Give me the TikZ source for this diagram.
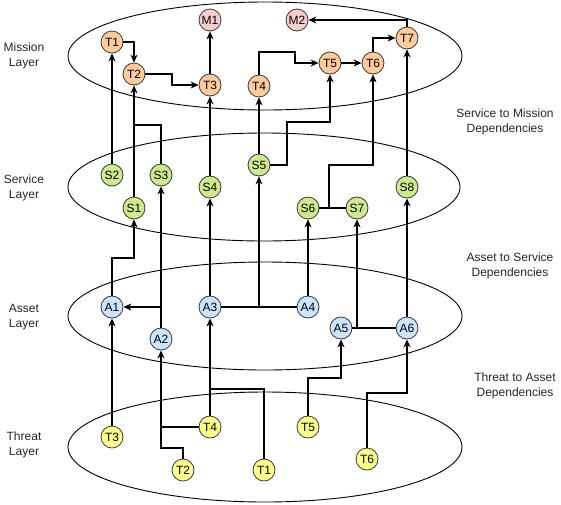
\documentclass[tikz,border=0pt]{standalone}
\usepackage{fontspec}
\setmainfont{Liberation Sans}
\usetikzlibrary{arrows.meta}
\definecolor{bordc}{HTML}{36393D}
\definecolor{orangef}{HTML}{FFCC99}
\definecolor{pinkf}{HTML}{F8CECC}
\definecolor{greenf}{HTML}{CDEB8B}
\definecolor{bluef}{HTML}{CCE5FF}
\definecolor{yellowf}{HTML}{FFFF88}
\tikzset{
  nd/.style={circle, draw=bordc, line width=0.8pt, minimum size=22pt, inner sep=0pt, font=\fontsize{12}{14}\selectfont},
  misn/.style={nd, fill=orangef},
  goal/.style={nd, fill=pinkf},
  serv/.style={nd, fill=greenf},
  asst/.style={nd, fill=bluef},
  thrt/.style={nd, fill=yellowf},
  layer/.style={draw=black, line width=0.9pt},
  conn/.style={draw=black, line width=1.1pt},
  arr/.style={conn, -{Stealth[length=8pt,width=7pt,inset=2.5pt]}},
  lbl/.style={align=center, font=\fontsize{12}{15}\selectfont, text=black!85}
}
\begin{document}
\begin{tikzpicture}[x=1pt,y=-1pt]
\useasboundingbox (0,0) rectangle (561,504);
% layers
\draw[layer] (265,56) ellipse [x radius=197, y radius=54];
\draw[layer] (264,187) ellipse [x radius=196, y radius=54];
\draw[layer] (265,316) ellipse [x radius=197, y radius=54];
\draw[layer] (265,447) ellipse [x radius=197, y radius=55];
% labels
\node[lbl] (lm) at (24,56) {Mission\\Layer};
\node[lbl] (ls) at (24,188) {Service\\Layer};
\node[lbl] (la) at (24,317) {Asset\\Layer};
\node[lbl] (lt) at (24,445) {Threat\\Layer};
\node[lbl] (dsm) at (505,122) {Service to Mission\\Dependencies};
\node[lbl] (das) at (510,266) {Asset to Service\\Dependencies};
\node[lbl] (dta) at (515,386) {Threat to Asset\\Dependencies};
% mission nodes
\node[misn] (mT1) at (112,42) {T1};
\node[misn] (mT2) at (134,74) {T2};
\node[misn] (mT3) at (210,85) {T3};
\node[misn] (mT4) at (259,86) {T4};
\node[misn] (mT5) at (330,63) {T5};
\node[misn] (mT6) at (373,63) {T6};
\node[misn] (mT7) at (407,38) {T7};
\node[goal] (M1) at (210,20) {M1};
\node[goal] (M2) at (297,20) {M2};
% service nodes
\node[serv] (S1) at (134,208) {S1};
\node[serv] (S2) at (112,175) {S2};
\node[serv] (S3) at (161,175) {S3};
\node[serv] (S4) at (210,187) {S4};
\node[serv] (S5) at (259,165) {S5};
\node[serv] (S6) at (308,208) {S6};
\node[serv] (S7) at (357,208) {S7};
\node[serv] (S8) at (407,187) {S8};
% asset nodes
\node[asst] (A1) at (112,307) {A1};
\node[asst] (A2) at (161,339) {A2};
\node[asst] (A3) at (210,307) {A3};
\node[asst] (A4) at (308,307) {A4};
\node[asst] (A5) at (341,328) {A5};
\node[asst] (A6) at (407,328) {A6};
% threat nodes
\node[thrt] (tT1) at (264,470) {T1};
\node[thrt] (tT2) at (183,470) {T2};
\node[thrt] (tT3) at (112,437) {T3};
\node[thrt] (tT4) at (210,427) {T4};
\node[thrt] (tT5) at (308,427) {T5};
\node[thrt] (tT6) at (367,459) {T6};
% junctions
\coordinate (j67) at (329,208);
\coordinate (jA2) at (161,307);
\coordinate (j34) at (259,307);
\coordinate (j56) at (357,328);
% mission layer edges
\draw[arr] (mT1.east) -| (mT2.north);
\draw[arr] (mT2.east) -- (172,74) |- (mT3.west);
\draw[arr] (mT3.north) -- (M1.south);
\draw[arr] (mT4.north) |- (295,52) |- (mT5.west);
\draw[arr] (mT5.east) -- (mT6.west);
\draw[arr] (mT6.north) |- (mT7.west);
\draw[arr] (mT7.north) |- (M2.east);
% service to mission
\draw[arr] (S2.north) -- (mT1.south);
\draw[arr] (S1.north) -- (mT2.south);
\draw[conn] (S3.north) |- (134,125);
\draw[arr] (S4.north) -- (mT3.south);
\draw[arr] (S5.north) -- (mT4.south);
\draw[arr] (S5.east) -| (287,122) -| (mT5.south);
\draw[conn] (S6.east) -- (S7.west);
\draw[arr] (j67) |- (373,165) -- (mT6.south);
\draw[arr] (S8.north) -- (mT7.south);
% asset to service
\draw[arr] (A1.north) |- (134,258) -- (S1.south);
\draw[arr] (A2.north) -- (S3.south);
\draw[arr] (jA2) -- (A1.east);
\draw[arr] (A3.north) -- (S4.south);
\draw[conn] (A3.east) -- (A4.west);
\draw[arr] (j34) -- (S5.south);
\draw[arr] (A4.north) -- (S6.south);
\draw[conn] (A5.east) -- (A6.west);
\draw[arr] (j56) -- (S7.south);
\draw[arr] (A6.north) -- (S8.south);
% threat to asset
\draw[arr] (tT3.north) -- (A1.south);
\draw[arr] (tT2.north) |- (161,448) -- (A2.south);
\draw[conn] (tT4.west) -- (161,427);
\draw[arr] (tT4.north) -- (A3.south);
\draw[conn] (tT1.north) |- (210,389);
\draw[arr] (tT5.north) |- (341,378) -- (A5.south);
\draw[arr] (tT6.north) |- (407,393) -- (A6.south);
\end{tikzpicture}
\end{document}
